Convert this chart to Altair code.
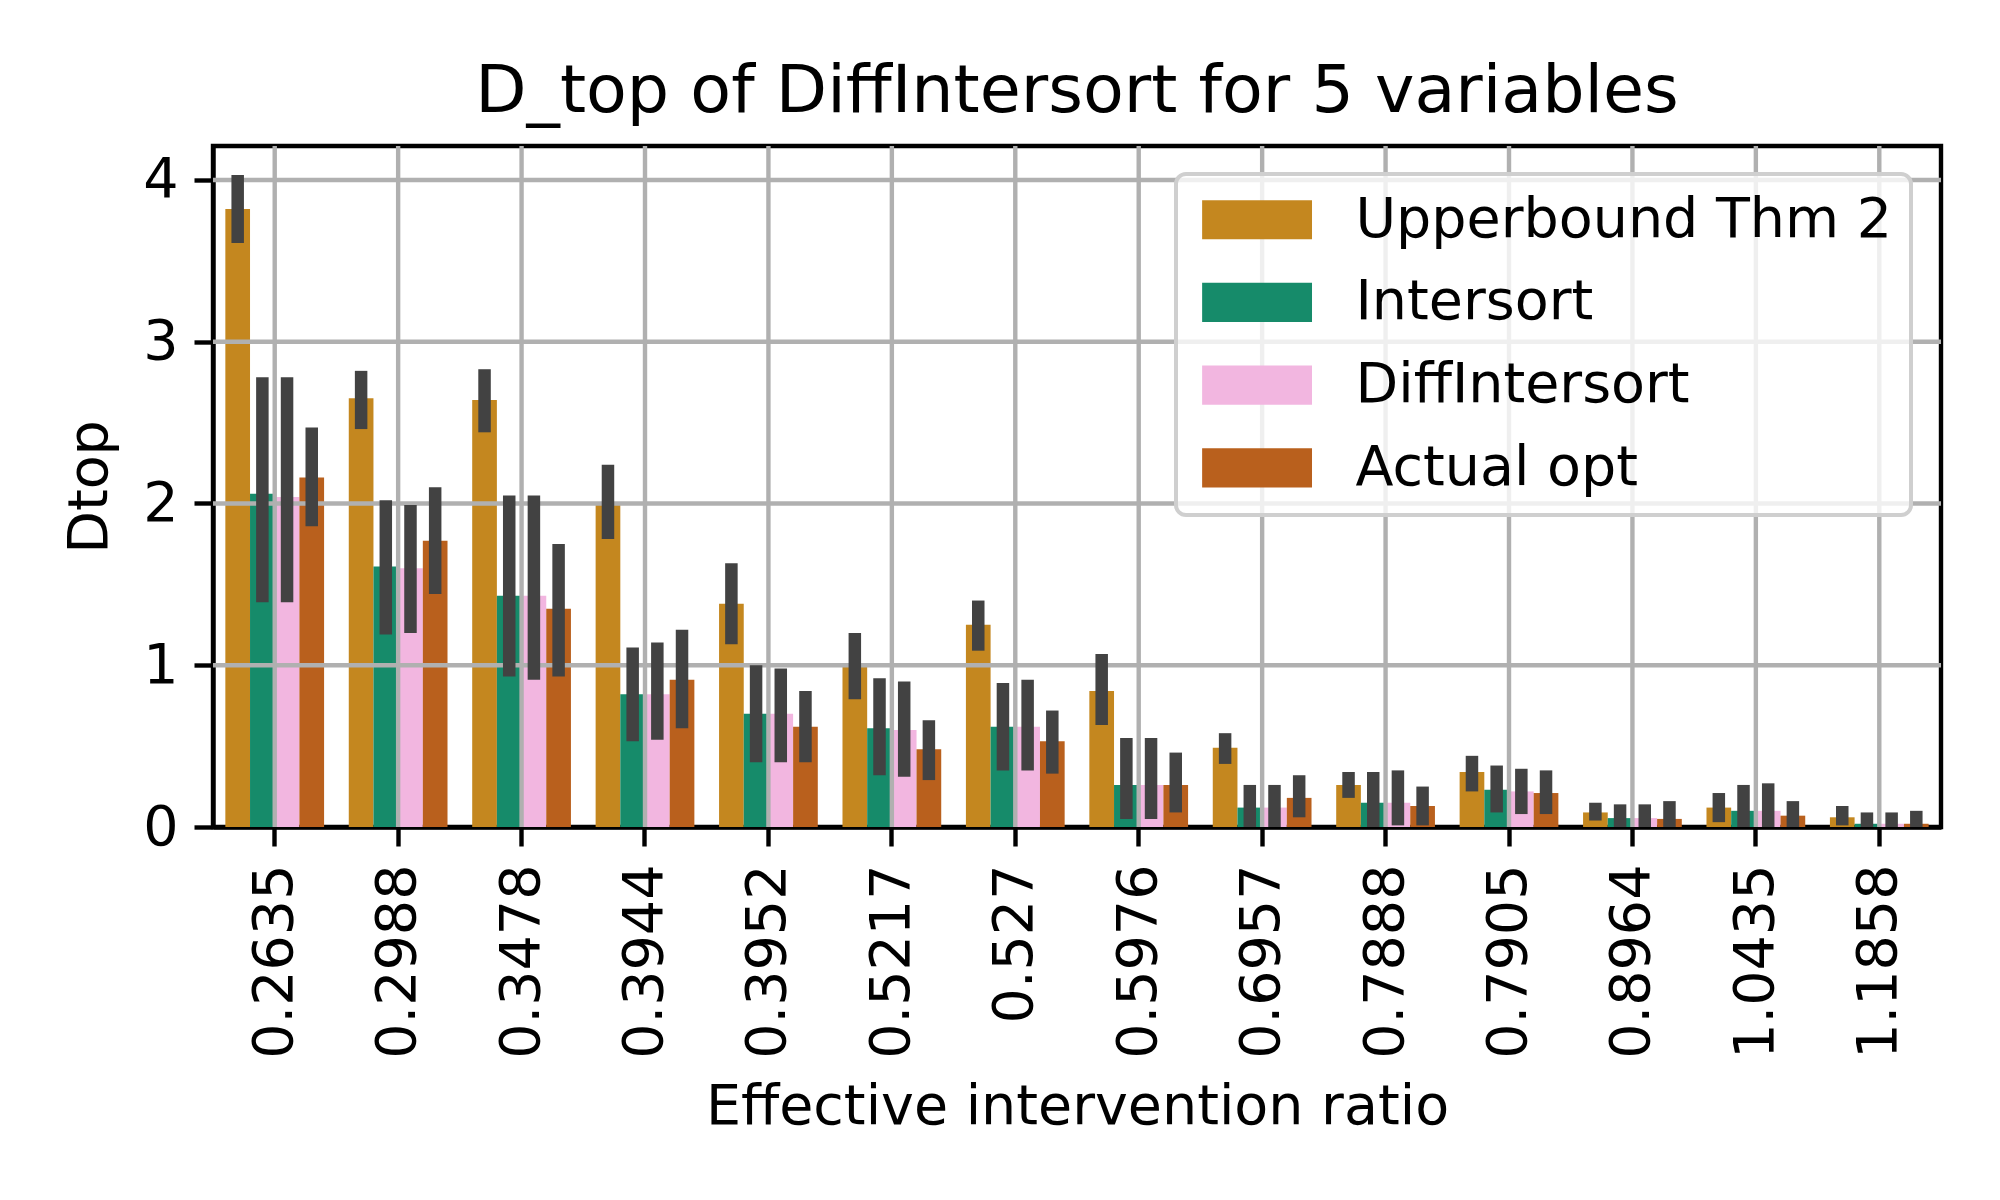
import altair as alt
import pandas as pd

ratios = ["0.2635", "0.2988", "0.3478", "0.3944", "0.3952", "0.5217", "0.527",
          "0.5976", "0.6957", "0.7888", "0.7905", "0.8964", "1.0435", "1.1858"]
methods = ["Upperbound Thm 2", "Intersort", "DiffIntersort", "Actual opt"]
colors = ["#C4871F", "#168B6A", "#F2B6E0", "#B9601D"]

upper_mean = [3.82, 2.65, 2.64, 1.99, 1.38, 0.99, 1.25, 0.84, 0.49, 0.26, 0.34, 0.09, 0.12, 0.06]
upper_lo = [3.61, 2.46, 2.44, 1.78, 1.13, 0.79, 1.09, 0.63, 0.39, 0.18, 0.22, 0.04, 0.03, 0.01]
upper_hi = [4.03, 2.82, 2.83, 2.24, 1.63, 1.20, 1.40, 1.07, 0.58, 0.34, 0.44, 0.15, 0.21, 0.13]

inter_mean = [2.06, 1.61, 1.43, 0.82, 0.70, 0.61, 0.62, 0.26, 0.12, 0.15, 0.23, 0.055, 0.10, 0.02]
inter_lo = [1.39, 1.19, 0.93, 0.53, 0.40, 0.32, 0.35, 0.05, 0.0, 0.0, 0.09, 0.0, 0.0, 0.0]
inter_hi = [2.78, 2.02, 2.05, 1.11, 1.00, 0.92, 0.89, 0.55, 0.26, 0.34, 0.38, 0.14, 0.26, 0.09]

diff_mean = [2.04, 1.60, 1.43, 0.82, 0.70, 0.60, 0.62, 0.26, 0.12, 0.15, 0.22, 0.055, 0.10, 0.02]
diff_lo = [1.39, 1.20, 0.91, 0.54, 0.40, 0.31, 0.35, 0.05, 0.0, 0.01, 0.08, 0.0, 0.0, 0.0]
diff_hi = [2.78, 1.99, 2.05, 1.14, 0.98, 0.90, 0.91, 0.55, 0.26, 0.35, 0.36, 0.14, 0.27, 0.09]

actual_mean = [2.16, 1.77, 1.35, 0.91, 0.62, 0.48, 0.53, 0.26, 0.18, 0.13, 0.21, 0.05, 0.07, 0.02]
actual_lo = [1.86, 1.44, 0.93, 0.61, 0.40, 0.29, 0.33, 0.09, 0.06, 0.01, 0.08, 0.0, 0.0, 0.0]
actual_hi = [2.47, 2.10, 1.75, 1.22, 0.84, 0.66, 0.72, 0.46, 0.32, 0.25, 0.35, 0.16, 0.16, 0.10]

y_ticks = [0, 1, 2, 3, 4]

series = {
    "Upperbound Thm 2": (upper_mean, upper_lo, upper_hi),
    "Intersort": (inter_mean, inter_lo, inter_hi),
    "DiffIntersort": (diff_mean, diff_lo, diff_hi),
    "Actual opt": (actual_mean, actual_lo, actual_hi),
}
rows = []
for m in methods:
    mean, lo, hi = series[m]
    for i, r in enumerate(ratios):
        rows.append({"ratio": r, "method": m, "mean": mean[i], "lo": lo[i], "hi": hi[i]})
df = pd.DataFrame(rows)

FONT = "DejaVu Sans"
LW = 4.4

yscale = alt.Scale(domain=[0, 4.21], nice=False, zero=True)
xenc = alt.X("ratio:N", sort=ratios,
             scale=alt.Scale(paddingInner=0.2, paddingOuter=0.1),
             axis=alt.Axis(title="Effective intervention ratio", labelAngle=-90,
                           labelPadding=18, titlePadding=52, labelLimit=1000))
xoff = alt.XOffset("method:N", sort=methods, scale=alt.Scale(paddingInner=0, paddingOuter=0))

bars = alt.Chart(df).mark_bar().encode(
    x=xenc,
    xOffset=xoff,
    y=alt.Y("mean:Q", scale=yscale,
            axis=alt.Axis(title="Dtop", values=y_ticks, format="d", labelPadding=16, titlePadding=24)),
    color=alt.Color("method:N", sort=methods,
                    scale=alt.Scale(domain=methods, range=colors),
                    legend=alt.Legend(title=None, orient="none", legendX=963, legendY=28,
                                      symbolType="M-1,-1H4.6V1H-1Z", symbolSize=1540,
                                      symbolStrokeWidth=0, labelFontSize=55.5, labelFont=FONT,
                                      labelColor="black", labelOffset=106, rowPadding=25.7,
                                      labelLimit=2000, padding=18,
                                      fillColor="rgba(255,255,255,0.8)",
                                      strokeColor="#cfcfcf", cornerRadius=10)),
)

hgrid = alt.Chart(pd.DataFrame({"v": y_ticks[1:]})).mark_rule(
    color="#b0b0b0", strokeWidth=LW).encode(y=alt.Y("v:Q", scale=yscale))
vgrid = alt.Chart(pd.DataFrame({"ratio": ratios})).mark_rule(
    color="#b0b0b0", strokeWidth=LW).encode(x=alt.X("ratio:N", sort=ratios))

ci = alt.Chart(df).mark_bar(color="#424242", width=12.5).encode(
    x=alt.X("ratio:N", sort=ratios),
    xOffset=xoff,
    y=alt.Y("lo:Q", scale=yscale),
    y2="hi:Q",
)

chart = alt.layer(bars, hgrid, vgrid, ci).properties(
    width=1728, height=681,
    autosize=alt.AutoSizeParams(type="none"),
    padding={"left": 205, "top": 138, "right": 40, "bottom": 320},
    title=alt.TitleParams("D_top of DiffIntersort for 5 variables", font=FONT, fontSize=66.7,
                          fontWeight="normal", color="black", offset=18, anchor="middle"),
).configure_view(
    stroke="black", strokeWidth=LW
).configure_axis(
    grid=False, domainColor="black", domainWidth=LW, tickColor="black", tickWidth=LW,
    tickSize=19, labelFont=FONT, labelFontSize=55.5, labelColor="black",
    titleFont=FONT, titleFontSize=55.5, titleFontWeight="normal", titleColor="black",
).configure_legend(
    strokeWidth=4
)

chart.save("out.html", embed_options={"renderer": "svg", "actions": False})
